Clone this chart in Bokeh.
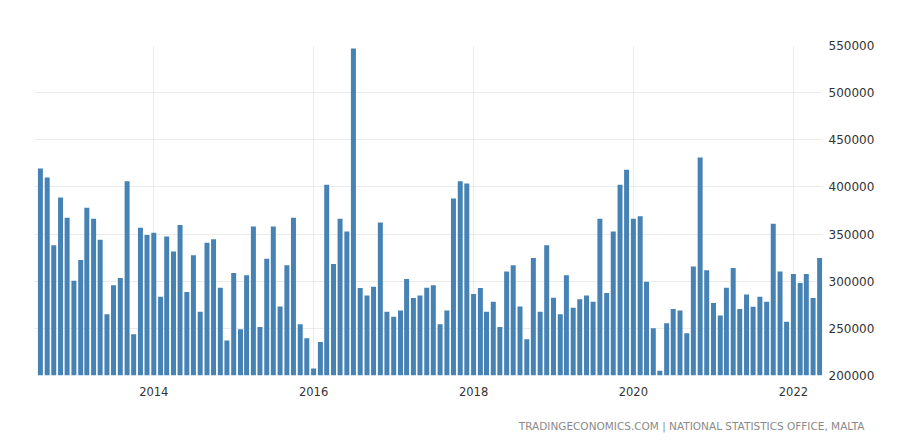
from datetime import datetime
import pandas as pd
from bokeh.plotting import figure
from bokeh.models import ColumnDataSource, FixedTicker, DatetimeTickFormatter, Range1d, Title
from bokeh.embed import file_html
from bokeh.resources import INLINE

# ---- data ----
start_month = "2012-08-01"
values = [
    419600, 410000, 338200, 388700, 367400,
    300600, 322600, 378000, 366300, 343900, 265000, 295600, 303400, 406100, 243700, 356700, 348900,
    351400, 283500, 347500, 331500, 359600, 288500, 327600, 267500, 340700, 344600, 293100, 237000,
    308700, 249000, 306300, 358100, 251500, 323700, 358100, 273200, 316900, 367400, 254400, 239400,
    207500, 235500, 402200, 318300, 366300, 352800, 546800, 292800, 284900, 294200, 362400, 267500,
    262200, 268900, 302300, 282100, 284900, 293100, 295600, 254400, 268900, 387600, 406100, 403600,
    286400, 292800, 267500, 278200, 251500, 310200, 316900, 273200, 238400, 324700, 267500, 338200,
    282400, 265000, 306300, 271800, 281000, 284900, 278200, 366300, 287400, 352800, 402200, 418200,
    366300, 368800, 299500, 250100, 205000, 255400, 270400, 268900, 244800, 315500, 431300, 311600,
    276800, 263600, 293100, 314100, 270400, 286000, 272900, 283500, 278200, 361000, 310200, 256900,
    307700, 298100, 307700, 282100, 324700,
]
year_ticks = [2014, 2016, 2018, 2020, 2022]
y_ticks = [200000, 250000, 300000, 350000, 400000, 450000, 500000, 550000]
source_text = "TRADINGECONOMICS.COM | NATIONAL STATISTICS OFFICE, MALTA"

dates = pd.date_range(start_month, periods=len(values), freq="MS")
src = ColumnDataSource(dict(date=dates, value=values))

def ms(d):
    return pd.Timestamp(d).value / 1e6

p = figure(
    width=900, height=445,
    x_axis_type="datetime", y_axis_location="right",
    x_range=Range1d(ms(datetime(2012, 7, 5)), ms(datetime(2022, 5, 14))),
    y_range=Range1d(200000, 550000),
    output_backend="svg", toolbar_location=None,
    min_border_left=34, min_border_right=78, min_border_top=45, min_border_bottom=70,
)
p.outline_line_color = None
p.background_fill_color = "white"
p.border_fill_color = "white"

bar_w = 22.8 * 24 * 3600 * 1000
p.vbar(x="date", top="value", bottom=200000, width=bar_w, source=src,
       fill_color="#4682b4", line_color=None)

# axes
p.xaxis.ticker = FixedTicker(ticks=[ms(datetime(y, 1, 1)) for y in year_ticks])
p.xaxis.formatter = DatetimeTickFormatter(years="%Y", months="%Y", days="%Y", hours="%Y")
p.yaxis.ticker = FixedTicker(ticks=y_ticks)
p.yaxis.formatter.use_scientific = False
for ax in (p.xaxis, p.yaxis):
    ax.axis_line_color = None
    ax.major_tick_line_color = None
    ax.minor_tick_line_color = None
    ax.major_label_text_font = "DejaVu Sans"
    ax.major_label_text_color = "#333333"
p.xaxis.major_label_text_font_size = "11.5px"
p.yaxis.major_label_text_font_size = "12px"
p.xaxis.major_label_standoff = 5
p.yaxis.major_label_standoff = 0

# grids
p.xgrid.grid_line_color = "#d6d6d6"
p.xgrid.grid_line_dash = "1 1"
p.ygrid.grid_line_color = "#d6d6d6"
p.ygrid.grid_line_dash = "1 1"

p.add_layout(Title(text=source_text, align="right", offset=-42, standoff=16,
                   vertical_align="top", padding=dict(top=13, bottom=0, left=0, right=0),
                   text_font="DejaVu Sans", text_font_size="10.5px",
                   text_font_style="normal", text_color="#8a8a8a"), "below")

open("out.html", "w").write(file_html(p, INLINE))
